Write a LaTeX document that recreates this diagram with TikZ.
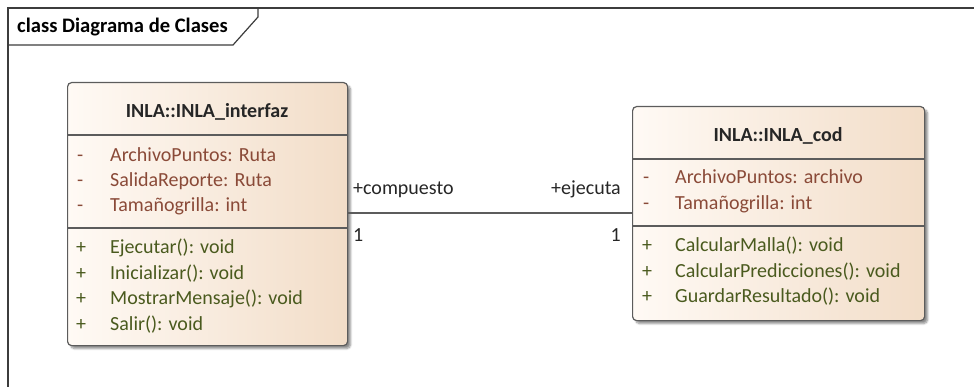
\documentclass[tikz,border=0pt]{standalone}
\usepackage{fontspec}
\setmainfont{Carlito}
\usetikzlibrary{shadows.blur}

\definecolor{frameline}{HTML}{3C3C3C}
\definecolor{boxline}{HTML}{5C5C5C}
\definecolor{fillL}{HTML}{FFFAF5}
\definecolor{fillR}{HTML}{F2DDC8}
\definecolor{attrcol}{HTML}{8A4A38}
\definecolor{opcol}{HTML}{4A5A1E}
\definecolor{txtcol}{HTML}{262626}

\tikzset{
  classbox/.style={rectangle, rounded corners=4pt, draw=boxline, line width=1.2pt,
    left color=fillL, right color=fillR, inner sep=0pt,
    blur shadow={shadow xshift=3pt, shadow yshift=-3pt, shadow blur steps=6, shadow opacity=45}},
  sep/.style={draw=boxline, line width=1.2pt},
  umltext/.style={inner sep=0pt, anchor=base west, font=\fontsize{20}{24}\selectfont},
  title/.style={umltext, anchor=base, font=\fontsize{20}{24}\selectfont\bfseries, text=txtcol},
  attr/.style={umltext, text=attrcol},
  op/.style={umltext, text=opcol},
  lbl/.style={umltext, text=txtcol},
  assoc/.style={draw=boxline, line width=1.2pt}
}

\begin{document}
\begin{tikzpicture}[x=1pt, y=-1pt]
\useasboundingbox (0,0) rectangle (974,387);

% diagram frame with its name tab
\draw[frameline, line width=1.5pt] (8,387) -- (8,8) -- (974,8);
\draw[frameline, line width=1.2pt] (8,45) -- (233,45) -- (258,17) -- (258,8);
\node[umltext, font=\fontsize{20.6}{24}\selectfont\bfseries, text=black] (frametitle) at (17,33) {class Diagrama de Clases};

% class INLA_interfaz
\node[classbox, anchor=north west, minimum width=280pt, minimum height=263pt] (iface) at (67,82) {};
\draw[sep] (67,135) -- (347,135);
\draw[sep] (67,228) -- (347,228);
\node[title] (ifacename) at (207,118) {INLA::INLA\_interfaz};
\node[attr] (ia1s) at (77,162) {-};
\node[attr] (ia1) at (110,162) {ArchivoPuntos: Ruta};
\node[attr] (ia2s) at (77,187) {-};
\node[attr] (ia2) at (110,187) {SalidaReporte: Ruta};
\node[attr] (ia3s) at (77,212) {-};
\node[attr] (ia3) at (110,212) {Tamañogrilla: int};
\node[op] (io1s) at (76,254) {+};
\node[op] (io1) at (110,254) {Ejecutar(): void};
\node[op] (io2s) at (76,279.3) {+};
\node[op] (io2) at (110,279.3) {Inicializar(): void};
\node[op] (io3s) at (76,304.6) {+};
\node[op] (io3) at (110,304.6) {MostrarMensaje(): void};
\node[op] (io4s) at (76,330) {+};
\node[op] (io4) at (110,330) {Salir(): void};

% class INLA_cod
\node[classbox, anchor=north west, minimum width=292pt, minimum height=214pt] (cod) at (632,106) {};
\draw[sep] (632,159) -- (924,159);
\draw[sep] (632,226) -- (924,226);
\node[title] (codname) at (778,142) {INLA::INLA\_cod};
\node[attr] (ca1s) at (643,184) {-};
\node[attr] (ca1) at (675,184) {ArchivoPuntos: archivo};
\node[attr] (ca2s) at (643,209.5) {-};
\node[attr] (ca2) at (675,209.5) {Tamañogrilla: int};
\node[op] (co1s) at (642,252) {+};
\node[op] (co1) at (675,252) {CalcularMalla(): void};
\node[op] (co2s) at (642,277) {+};
\node[op] (co2) at (675,277) {CalcularPredicciones(): void};
\node[op] (co3s) at (642,302) {+};
\node[op] (co3) at (675,302) {GuardarResultado(): void};

% association between the two classes
\coordinate (aL) at (347,213);
\coordinate (aR) at (632,213);
\draw[assoc] (aL) -- (aR);
\node[lbl] (roleL) at (353,195) {+compuesto};
\node[lbl] (multL) at (353,242) {1};
\node[lbl, anchor=base east] (roleR) at (621,195) {+ejecuta};
\node[lbl, anchor=base east] (multR) at (621,242) {1};
\end{tikzpicture}
\end{document}
